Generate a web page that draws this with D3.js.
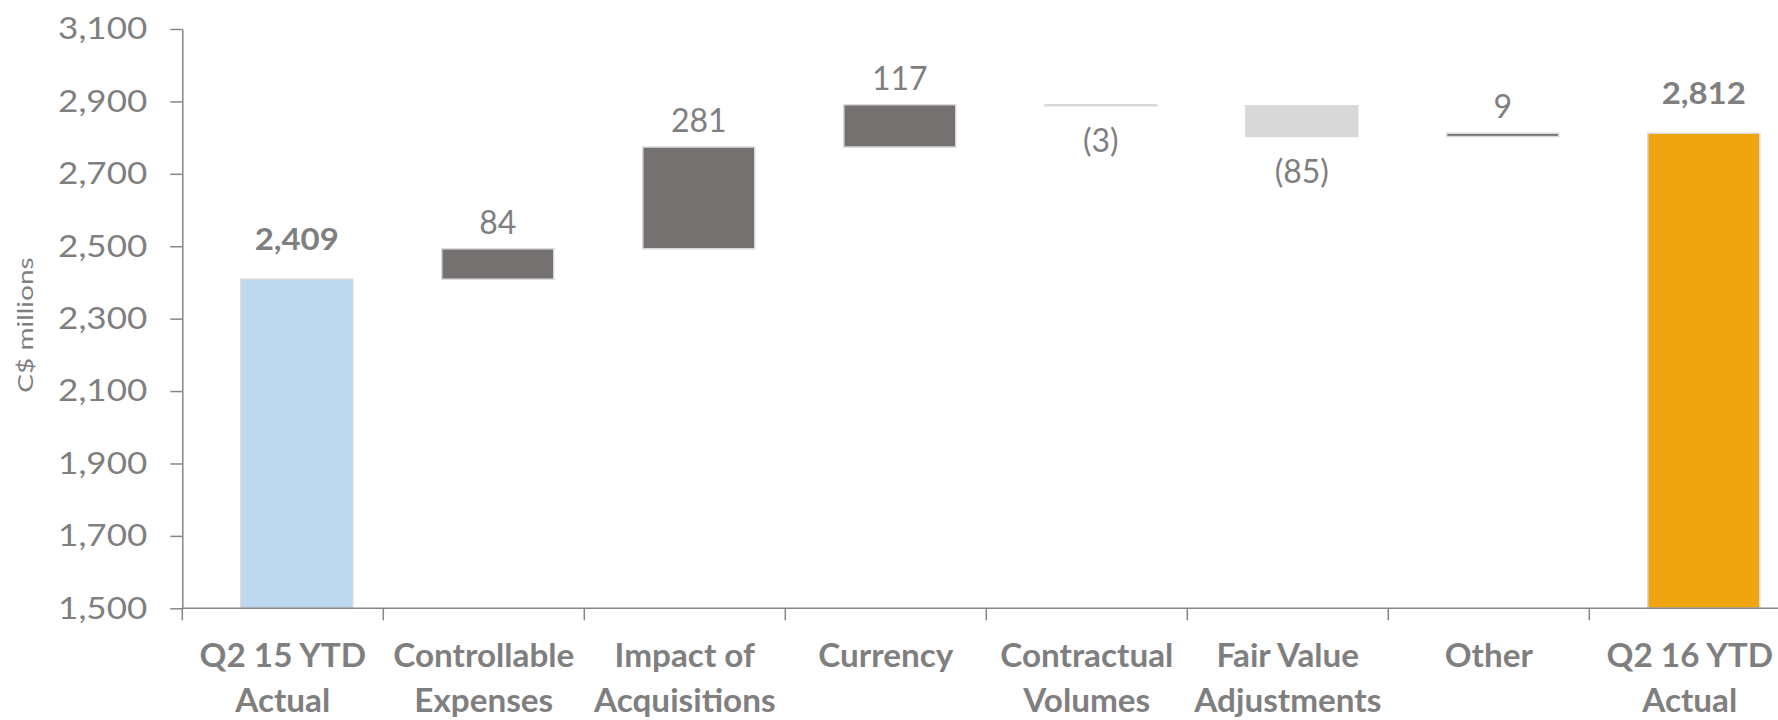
<!DOCTYPE html>
<html>
<head>
<meta charset="utf-8">
<script src="https://cdn.jsdelivr.net/npm/d3@7"></script>
<style>
  body { margin: 0; background: #fff; }
  svg text { font-family: Lato, "Open Sans", sans-serif; fill: #7f7f7f; }
</style>
</head>
<body>
<svg id="chart" width="1778" height="720"></svg>
<script>
// waterfall data, C$ millions
var categories = ["Q2 15 YTD\nActual", "Controllable\nExpenses", "Impact of\nAcquisitions", "Currency",
                  "Contractual\nVolumes", "Fair Value\nAdjustments", "Other", "Q2 16 YTD\nActual"];
var kinds = ["total", "delta", "delta", "delta", "delta", "delta", "delta", "total"];
var values = [2409, 84, 281, 117, -3, -85, 9, 2812];
var yTicks = [1500, 1700, 1900, 2100, 2300, 2500, 2700, 2900, 3100];

var svg = d3.select("#chart"),
    margin = { top: 29, left: 182.3, bottom: 111.7 },
    height = +svg.attr("height");

var x = d3.scaleBand()
    .domain(categories)
    .range([margin.left, margin.left + 8 * 201]); // plot runs past the right edge, like the source

var y = d3.scaleLinear()
    .domain([1500, 3100])
    .range([height - margin.bottom, margin.top]);

// the source picture is a bit stretched sideways, so text gets widened around its anchor
function widen(sel, k, ax) {
    sel.attr("transform", function (d) {
        var a = ax(d, this);
        return "translate(" + a + ",0) scale(" + k + ",1) translate(" + (-a) + ",0)";
    });
}

// running totals for the floating bars
var run = 0;
var bars = categories.map(function (c, i) {
    var v = values[i], b;
    if (kinds[i] == "total") { b = { y0: 1500, y1: v }; run = v; }
    else { b = { y0: run, y1: run + v }; run += v; }
    b.cat = c; b.value = v; b.kind = kinds[i]; b.i = i;
    return b;
});

function barColor(d) {
    if (d.i == 0) return "#bdd7ee";
    if (d.kind == "total") return "#efa50f";
    return d.value >= 0 ? "#767171" : "#d9d9d9";
}

var bw = x.bandwidth();
function barMid(d) { return x(d.cat) + bw * 0.291 + bw * 0.557 / 2; }

svg.append("g").selectAll("rect")
    .data(bars)
    .enter().append("rect")
    .attr("x", function (d) { return x(d.cat) + bw * 0.291; })
    .attr("width", bw * 0.557)
    .attr("y", function (d) { return y(Math.max(d.y0, d.y1)); })
    .attr("height", function (d) { return Math.abs(y(d.y0) - y(d.y1)); })
    .attr("fill", barColor)
    .attr("stroke", "#d9d9d9")
    .attr("stroke-width", 1.5);

// value labels
var fmt = d3.format(",");
var vl = svg.append("g").selectAll("text")
    .data(bars)
    .enter().append("text")
    .attr("x", barMid)
    .attr("y", function (d) {
        if (d.kind == "total") return y(d.y1) - 29;
        if (d.value >= 0) return y(d.y1) - 15;
        return y(d.y1) + 46;
    })
    .attr("text-anchor", "middle")
    .attr("font-size", function (d) { return d.kind == "total" ? "30px" : "32px"; })
    .attr("font-weight", function (d) { return d.kind == "total" ? "bold" : "normal"; })
    .text(function (d) {
        if (d.kind == "total") return fmt(d.value);
        return d.value < 0 ? "(" + fmt(-d.value) + ")" : fmt(d.value);
    });
widen(vl.filter(function (d) { return d.kind == "total"; }), 1.1, barMid);

// y axis
var yAxis = svg.append("g")
    .attr("transform", "translate(" + margin.left + ",0)")
    .call(d3.axisLeft(y).tickValues(yTicks).tickSize(12).tickSizeOuter(0).tickPadding(23).tickFormat(fmt));
yAxis.selectAll("text").attr("font-size", "31px").style("font-family", null);
widen(yAxis.selectAll("text"), 1.13, function () { return -35; });
yAxis.selectAll("line, path").attr("stroke", "#868686").attr("stroke-width", 1.5);

// x axis: baseline, ticks at band edges, two-line labels
var xg = svg.append("g");
xg.append("line")
    .attr("x1", margin.left).attr("x2", x.range()[1])
    .attr("y1", y(1500)).attr("y2", y(1500))
    .attr("stroke", "#868686").attr("stroke-width", 1.5);
xg.selectAll(".tick")
    .data(categories)
    .enter().append("line")
    .attr("x1", function (d) { return x(d); }).attr("x2", function (d) { return x(d); })
    .attr("y1", y(1500)).attr("y2", y(1500) + 12)
    .attr("stroke", "#868686").attr("stroke-width", 1.5);
var cl = xg.selectAll(".lbl")
    .data(categories)
    .enter().append("text")
    .attr("text-anchor", "middle")
    .attr("font-size", "32px")
    .attr("font-weight", "bold")
    .each(function (d) {
        var t = d3.select(this);
        d.split("\n").forEach(function (line, k) {
            t.append("tspan")
                .attr("x", x(d) + bw / 2)
                .attr("y", 667 + k * 45)
                .text(line);
        });
    });
widen(cl, 1.04, function (d) { return x(d) + bw / 2; });

// axis title
svg.append("text")
    .attr("transform", "translate(33,325) rotate(-90) scale(1,0.75)")
    .attr("text-anchor", "middle")
    .attr("font-size", "28px")
    .text("C$ millions");
</script>
</body>
</html>
